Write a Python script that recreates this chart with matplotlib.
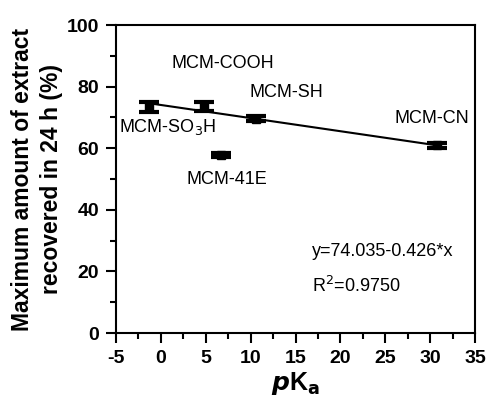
import matplotlib.pyplot as plt
import numpy as np
from matplotlib.ticker import MultipleLocator

plt.rcParams['font.family'] = ['Liberation Sans', 'DejaVu Sans']
plt.rcParams['axes.unicode_minus'] = False

# pKa of each functionalised silica and recovered extract (%)
names = ['MCM-SO$_3$H', 'MCM-COOH', 'MCM-41E', 'MCM-SH', 'MCM-CN']
pka = [-1.3, 4.8, 6.7, 10.6, 30.8]
recovery = [73.4, 73.5, 57.8, 69.5, 60.9]
errors = [1.6, 1.5, 0.7, 0.8, 0.8]

# linear fit reported on the plot
intercept = 74.035
slope = -0.426
r2 = 0.9750

fig = plt.figure(figsize=(4.86, 3.98), dpi=100)
ax = fig.add_axes([116 / 486, 1 - 333 / 398, 359 / 486, 308 / 398])

ax.errorbar(pka, recovery, yerr=errors, fmt='s', color='black', ms=6,
            capsize=7, capthick=3, elinewidth=3, zorder=3)

xfit = np.array([pka[0], pka[-1]])
ax.plot(xfit, intercept + slope * xfit, color='black', lw=1.5)

# sample labels (centre x, baseline y)
label_pos = [(0.7, 65.3), (6.9, 86.1), (7.4, 48.3), (14.0, 76.7), (30.2, 68.3)]
for name, (lx, ly) in zip(names, label_pos):
    ax.text(lx, ly, name, fontsize=13, ha='center', va='baseline')

ax.text(16.8, 25.0, 'y=%.3f%.3f*x' % (intercept, slope), fontsize=13, va='baseline')
ax.text(16.8, 13.2, 'R$^2$=%.4f' % r2, fontsize=13, va='baseline')

ax.set_xlim(-5, 35)
ax.set_ylim(0, 100)
ax.xaxis.set_major_locator(MultipleLocator(5))
ax.xaxis.set_minor_locator(MultipleLocator(2.5))
ax.yaxis.set_major_locator(MultipleLocator(20))
ax.yaxis.set_minor_locator(MultipleLocator(10))
ax.tick_params(which='major', length=7, width=1.5, labelsize=14, pad=5)
ax.tick_params(which='minor', length=4, width=1.5)
for lab in ax.get_xticklabels() + ax.get_yticklabels():
    lab.set_fontweight('bold')
for sp in ax.spines.values():
    sp.set_linewidth(1.5)

ax.set_xlabel(r'$\boldsymbol{p}$K$_\mathbf{a}$', fontsize=18, fontweight='bold', labelpad=2.5)
ax.set_ylabel('Maximum amount of extract\nrecovered in 24 h (%)', fontsize=16.5,
              fontweight='bold', labelpad=3, linespacing=1.3)

plt.savefig('out.png', dpi=100)
